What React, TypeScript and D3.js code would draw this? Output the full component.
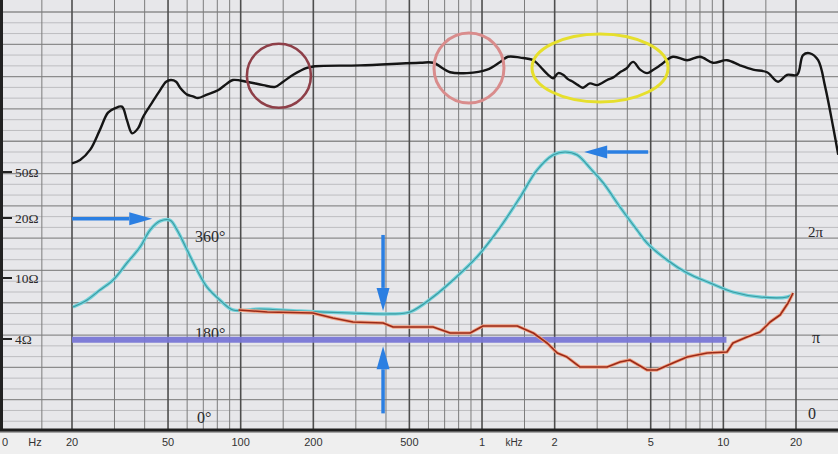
import React from 'react';
import * as d3 from 'd3';

const W = 838;
const H = 454;

// loudspeaker response (Hz, dB)
const respFreq = [20, 21.6, 23.8, 26.1, 28.2, 30.1, 32.2, 33.8, 35.5, 37.6, 39.4, 43, 46.3, 49.1, 51.4, 54, 56.1, 60, 63.4, 66.5, 72.5, 80.5, 87.8, 92.9, 106, 124, 139, 150, 165, 188, 203, 312, 554, 627, 738, 867, 1050, 1190, 1280, 1440, 1630, 1790, 1880, 1970, 2070, 2170, 2270, 2380, 2500, 2620, 2800, 3000, 3300, 3500, 3730, 3950, 4230, 4520, 4830, 5130, 5470, 6180, 7080, 8010, 9060, 10350, 11720, 13280, 15170, 16860, 18370, 20220, 21400, 22860, 24700, 26420, 28520, 29920];
const respDb = [31.0, 31.4, 32.6, 34.9, 36.9, 37.4, 37.6, 36.0, 34.5, 35.1, 36.4, 38.1, 39.5, 40.5, 40.7, 40.5, 39.8, 39.0, 38.8, 38.6, 39.0, 39.5, 40.3, 40.7, 40.5, 40.1, 39.9, 40.5, 41.3, 42.1, 42.3, 42.4, 42.7, 42.7, 41.6, 41.5, 41.9, 42.8, 43.4, 43.3, 43.0, 41.9, 41.3, 40.9, 41.5, 41.3, 40.8, 40.5, 40.1, 39.8, 40.3, 40.1, 40.7, 41.0, 41.6, 42.0, 42.8, 41.9, 41.5, 41.9, 42.4, 43.4, 43.0, 43.4, 42.7, 43.0, 42.4, 41.9, 41.6, 40.5, 41.3, 41.3, 43.6, 43.8, 43.0, 39.9, 35.2, 32.0];

// impedance (Hz, ohm)
const impFreq = [20.2, 23.1, 26.1, 29.6, 33.8, 38.3, 42.1, 46.3, 51, 54.5, 60, 65.9, 72.5, 82, 92.9, 120, 176, 284, 416, 503, 627, 759, 953, 1190, 1440, 1690, 1970, 2210, 2480, 2800, 3180, 3730, 4390, 4830, 5850, 7080, 8810, 10960, 14190, 18370, 19450];
const impOhm = [6.47, 7.19, 8.35, 9.7, 11.9, 14.3, 17.4, 19.3, 19.5, 17.4, 13.8, 10.97, 8.73, 7.19, 6.19, 6.28, 6.09, 5.91, 5.83, 6.0, 7.52, 9.7, 12.75, 18.0, 30.4, 52.0, 70.2, 74.5, 70.2, 54.2, 40.2, 24.9, 17.4, 14.98, 12.31, 10.6, 9.28, 8.1, 7.52, 7.52, 7.86];

// phase (Hz, degrees)
const phaseFreq = [98, 129, 199, 241, 292, 389, 428, 627, 738, 892, 1010, 1400, 1630, 1860, 2050, 2250, 2550, 3300, 3730, 4100, 4830, 5310, 6180, 7080, 8570, 10350, 10960, 12530, 14190, 15630, 17180, 18540, 19450];
const phaseDeg = [227.5, 224.2, 222.4, 214.0, 207.2, 205.5, 198.7, 198.7, 188.5, 188.5, 200.4, 200.4, 188.5, 171.5, 154.5, 147.7, 130.7, 130.7, 139.2, 142.6, 125.7, 125.7, 137.5, 147.7, 154.5, 156.2, 171.5, 181.7, 190.2, 207.2, 219.1, 239.4, 256.4];

const freqTicks = [20, 50, 100, 200, 500, 1000, 2000, 5000, 10000, 20000];
const freqTickLabels = ['20', '50', '100', '200', '500', '1', '2', '5', '10', '20'];
const ohmTicks = [50, 20, 10, 4];
const ohmTickLabels = ['50Ω', '20Ω', '10Ω', '4Ω'];
const gridMult = [1, 1.5, 2, 3, 4, 5, 6, 7, 8, 9];
const gridDecades = [10, 100, 1000, 10000];

// marked-up bits
const bandFrom = 20;
const bandTo = 10300;
const bandPhase = 177;

export default function App() {
  const x = d3.scaleLog().domain([20, 20000]).range([72, 796]);
  const yDb = d3.scaleLinear().domain([0, 50]).range([430, 0]);
  const yOhm = d3.scaleLog().domain([4, 10, 20, 50]).range([339, 278, 218, 172]);
  const yPh = d3.scaleLinear().domain([0, 360]).range([444, 232]);
  const paper = d3.scaleLinear().domain([0, 39]).range([432, 12]);

  const smooth = d3.line<[number, number]>().curve(d3.curveCatmullRom.alpha(0.5));
  const plain = d3.line<[number, number]>();
  const respPath = smooth(respFreq.map((f, i) => [x(f), yDb(respDb[i])] as [number, number])) || '';
  const impPath = smooth(impFreq.map((f, i) => [x(f), yOhm(impOhm[i])] as [number, number])) || '';
  const phPath = plain(phaseFreq.map((f, i) => [x(f), yPh(phaseDeg[i])] as [number, number])) || '';

  const vlines: { f: number; major: boolean }[] = [];
  gridDecades.forEach(dec => gridMult.forEach(m => {
    const f = dec * m;
    if (f <= 30000) vlines.push({ f, major: m === 1 || m === 2 || m === 5 });
  }));
  const hlines = d3.range(0, 40);

  const blue = '#2b7fe2';
  const arrow = (x1: number, y1: number, x2: number, y2: number, key: string) => {
    const a = Math.atan2(y2 - y1, x2 - x1);
    const len = 23, hw = 6.5;
    const bx = x2 - len * Math.cos(a), by = y2 - len * Math.sin(a);
    const px = -Math.sin(a) * hw, py = Math.cos(a) * hw;
    return (
      <g key={key}>
        <line x1={x1} y1={y1} x2={bx} y2={by} stroke={blue} strokeWidth={3.5} />
        <path d={`M${x2},${y2}L${bx + px},${by + py}L${bx - px},${by - py}Z`} fill={blue} />
      </g>
    );
  };

  const serif = '"Liberation Serif", "DejaVu Serif", serif';
  const sans = '"Liberation Sans", Arial, sans-serif';

  return (
    <svg width={W} height={H} style={{ position: 'absolute', left: 0, top: 0 }}>
      <rect width={W} height={H} fill="#efefef" />
      <rect width={W} height={430} fill="#e7e7ea" />

      {/* paper grid */}
      {hlines.map(i => (
        <line key={'h' + i} x1={0} x2={W} y1={paper(i)} y2={paper(i)}
          stroke={i % 3 === 0 ? '#8c8c8c' : '#bdbdc0'} strokeWidth={i % 3 === 0 ? 1.3 : 1} />
      ))}
      {vlines.map(v => (
        <line key={'v' + v.f} x1={x(v.f)} x2={x(v.f)} y1={0} y2={430}
          stroke={v.major ? '#4e4e4e' : '#7c7c7c'} strokeWidth={v.major ? 1.6 : 1} />
      ))}

      {/* axes */}
      <line x1={1.5} x2={1.5} y1={0} y2={431} stroke="#222" strokeWidth={3} />
      <line x1={0} x2={W} y1={430} y2={430} stroke="#1e1e1e" strokeWidth={3} />

      {ohmTicks.map((o, i) => (
        <g key={'o' + o}>
          <line x1={2} x2={12} y1={yOhm(o)} y2={yOhm(o)} stroke="#222" strokeWidth={2} />
          <text x={15} y={yOhm(o) + 4.5} fontFamily={serif} fontSize={13.5} fill="#2a2a2a">{ohmTickLabels[i]}</text>
        </g>
      ))}

      <text x={195} y={242} fontFamily={serif} fontSize={16} fill="#2a2a2a">360°</text>
      <text x={195} y={339} fontFamily={serif} fontSize={16} fill="#2a2a2a">180°</text>
      <text x={197} y={423} fontFamily={serif} fontSize={16} fill="#2a2a2a">0°</text>

      <text x={808} y={yPh(360) + 5} fontFamily={serif} fontSize={15} fill="#2a2a2a">2π</text>
      <text x={812} y={yPh(180) + 5} fontFamily={serif} fontSize={16} fill="#2a2a2a">π</text>
      <text x={808} y={419} fontFamily={serif} fontSize={16} fill="#2a2a2a">0</text>

      {/* bottom labels */}
      <text x={5} y={446} textAnchor="middle" fontFamily={sans} fontSize={11} fill="#333">0</text>
      <text x={35} y={446} textAnchor="middle" fontFamily={sans} fontSize={11} fill="#333">Hz</text>
      {freqTicks.map((f, i) => (
        <text key={'f' + f} x={x(f)} y={446} textAnchor="middle" fontFamily={sans} fontSize={11} fill="#333">{freqTickLabels[i]}</text>
      ))}
      <text x={514} y={446} textAnchor="middle" fontFamily={sans} fontSize={10} fill="#333">kHz</text>

      {/* 180 degree band */}
      <line x1={x(bandFrom)} x2={x(bandTo)} y1={yPh(bandPhase)} y2={yPh(bandPhase)}
        stroke="#7a78d6" strokeWidth={6} opacity={0.95} />

      {/* impedance */}
      <path d={impPath} fill="none" stroke="#74d2da" strokeWidth={3.4} />
      <path d={impPath} fill="none" stroke="#3c9aa2" strokeWidth={1.1} />

      {/* phase */}
      <path d={phPath} fill="none" stroke="#f2a486" strokeWidth={3.4} strokeLinejoin="round" />
      <path d={phPath} fill="none" stroke="#9b2a18" strokeWidth={1.6} strokeLinejoin="round" />

      {/* response */}
      <path d={respPath} fill="none" stroke="#151515" strokeWidth={2.4} strokeLinejoin="round" />

      {/* circled regions */}
      <circle cx={x(144)} cy={yDb(41.2)} r={32} fill="none" stroke="#8e3f48" strokeWidth={2.6} />
      <circle cx={x(883)} cy={yDb(42.1)} r={35} fill="none" stroke="#d98c8c" strokeWidth={3} />
      <ellipse cx={x(3083)} cy={yDb(42.1)} rx={68} ry={34} fill="none" stroke="#e6df2c" strokeWidth={3} />

      {/* arrows */}
      {arrow(x(20), yOhm(19.8), x(43), yOhm(19.8), 'a1')}
      {arrow(x(4880), yOhm(74.5), x(2650), yOhm(74.5), 'a2')}
      {arrow(x(389), yPh(355), x(389), yPh(226), 'a3')}
      {arrow(x(389), yPh(52), x(389), yPh(166), 'a4')}
    </svg>
  );
}
